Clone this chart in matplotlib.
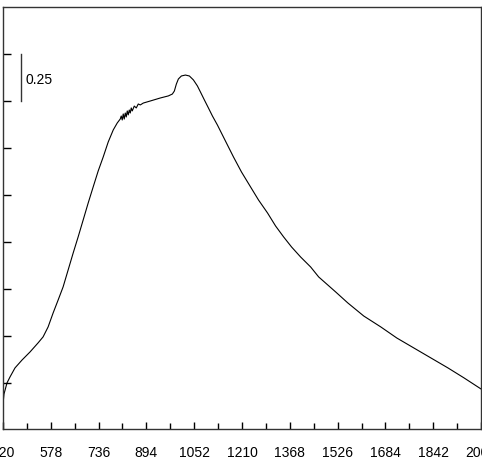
import matplotlib
matplotlib.use("Agg")
import matplotlib.pyplot as plt

# curve (wavelength, absorbance-like units)
wavelength = [420.0, 423.3, 433.2, 443.2, 459.7, 482.9, 509.4, 535.9, 552.5, 569.1,
              585.6, 602.2, 618.7, 635.3, 651.9, 668.4, 685.0, 701.5, 718.1, 734.7,
              751.2, 767.8, 784.4, 797.6, 807.5,
              810.8, 814.1, 817.4, 820.7, 824.1, 827.4, 830.7, 834.0, 837.3, 840.6,
              843.9, 847.2, 853.9, 860.5, 867.1, 873.8, 883.7,
              906.9, 940.0, 966.6, 979.8, 986.4, 993.0, 999.7, 1009.6, 1022.9,
              1036.1, 1049.4, 1062.6, 1072.6, 1085.8, 1099.0, 1112.3, 1128.8,
              1155.3, 1181.9, 1208.4, 1238.2, 1264.7, 1294.5, 1321.0, 1347.5,
              1374.0, 1403.8, 1436.9, 1463.4, 1519.7, 1559.5, 1612.5, 1668.8,
              1721.8, 1778.1, 1834.4, 1890.7, 1943.7, 2000.0]
signal = [-0.112, -0.059, 0.000, 0.032, 0.080, 0.122, 0.165, 0.213, 0.245, 0.298,
          0.372, 0.441, 0.511, 0.601, 0.691, 0.777, 0.867, 0.957, 1.043, 1.128,
          1.202, 1.282, 1.346, 1.383, 1.404,
          1.420, 1.399, 1.431, 1.404, 1.436, 1.415, 1.447, 1.426, 1.452, 1.436,
          1.463, 1.447, 1.473, 1.463, 1.484, 1.479, 1.489,
          1.500, 1.516, 1.527, 1.537, 1.553, 1.590, 1.617, 1.633, 1.638,
          1.633, 1.612, 1.580, 1.548, 1.505, 1.463, 1.420, 1.372,
          1.287, 1.202, 1.122, 1.043, 0.973, 0.904, 0.835, 0.777,
          0.723, 0.670, 0.617, 0.564, 0.484, 0.426, 0.356, 0.298,
          0.239, 0.186, 0.133, 0.080, 0.027, -0.032]

x_ticks = [420, 578, 736, 894, 1052, 1210, 1368, 1526, 1684, 1842, 2000]
scale_label = "0.25"

plt.rcParams["font.family"] = ["Liberation Sans", "DejaVu Sans"]

fig = plt.figure(figsize=(4.82, 4.69), dpi=100)
ax = fig.add_axes([3 / 482, 40 / 469, 478 / 482, 422 / 469])

ax.plot(wavelength, signal, color="black", linewidth=0.8)

# scale bar
ax.plot([479.6, 479.6], [1.5, 1.75], color="#333333", linewidth=1.0)
ax.text(494, 1.612, scale_label, fontsize=10, va="center", ha="left")

ax.set_xlim(420, 2000)
ax.set_ylim(-0.245, 2.0)
ax.set_xticks(x_ticks)
ax.set_xticklabels([str(t) for t in x_ticks])
ax.set_xticks([(a + b) / 2 for a, b in zip(x_ticks[:-1], x_ticks[1:])], minor=True)
ax.set_yticks([0, 0.25, 0.5, 0.75, 1.0, 1.25, 1.5, 1.75])
ax.set_yticklabels([])

ax.tick_params(axis="x", which="major", direction="in", length=5, width=1,
               pad=12, labelsize=10, top=False)
ax.tick_params(axis="x", which="minor", direction="in", length=4, width=1, top=False)
ax.tick_params(axis="y", direction="in", length=6, width=1, right=False)

for s in ax.spines.values():
    s.set_color("#333333")
    s.set_linewidth(1.0)

fig.savefig("out.png", dpi=100)
